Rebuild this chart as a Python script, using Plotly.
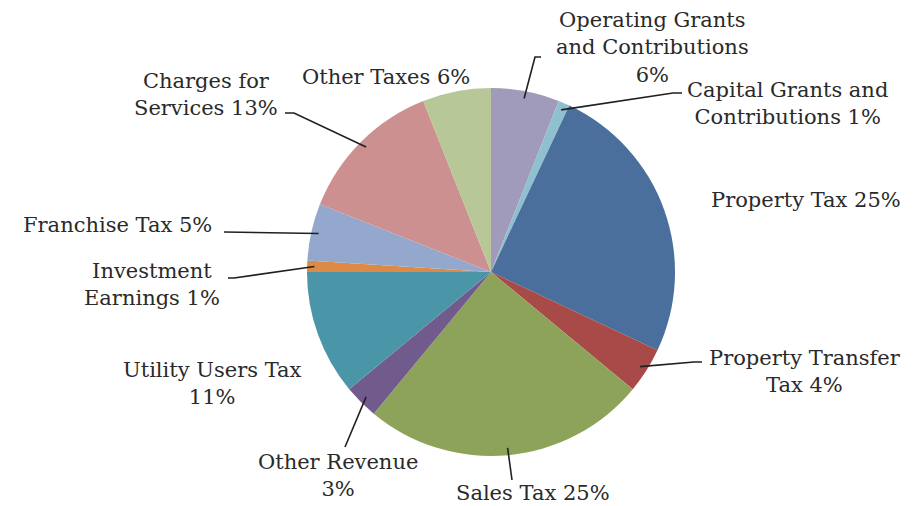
import math
import plotly.graph_objects as go

categories = ["Operating Grants and Contributions", "Capital Grants and Contributions",
              "Property Tax", "Property Transfer Tax", "Sales Tax", "Other Revenue",
              "Utility Users Tax", "Investment Earnings", "Franchise Tax",
              "Charges for Services", "Other Taxes"]
values = [6, 1, 25, 4, 25, 3, 11, 1, 5, 13, 6]
label_texts = ["Operating Grants<br>and Contributions<br>6%", "Capital Grants and<br>Contributions 1%",
               "Property Tax 25%", "Property Transfer<br>Tax 4%", "Sales Tax 25%", "Other Revenue<br>3%",
               "Utility Users Tax<br>11%", "Investment<br>Earnings 1%", "Franchise Tax 5%",
               "Charges for<br>Services 13%", "Other Taxes 6%"]
colors = ["#a09abb", "#8fc0cf", "#4a6f9c", "#a84a47", "#8da35a", "#715b8d",
          "#4a96a8", "#dc8a45", "#93a8cc", "#cc9090", "#b7c797"]

W, H = 914, 506
OFF = 8  # page body margin shifts the figure by 8px
CX, CY, R = 491 - OFF, 272 - OFF, 184

FONT = dict(family="DejaVu Serif", size=21, color="#2a2a2a")

# label centre positions (screen px)
label_pos = [(652, 48), (787, 103), (806, 200), (805, 371), (533, 493), (338, 475),
             (212, 383), (152, 284), (117, 225), (206, 94), (386, 77)]
# leader line: start point near label and optional elbow point (screen px); None = no line
leaders = [((541, 57), (535, 57)), ((682, 93), (673, 93)), None, ((702, 362), (694, 362)),
           ((512, 480), None), ((345, 447), None), None, ((228, 278), (234, 278)),
           ((224, 232), None), ((285, 113), (294, 113)), None]


def px(x, y):
    return x / W, 1 - y / H


fig = go.Figure(go.Pie(
    labels=categories, values=values, sort=False, direction="clockwise", rotation=0,
    marker=dict(colors=colors, line=dict(width=0)), textinfo="none", hoverinfo="label+percent",
    domain=dict(x=[(CX - R) / W, (CX + R) / W], y=[(H - CY - R) / H, (H - CY + R) / H]),
    showlegend=False,
))

total = sum(values)
cum = 0
annotations = []
shapes = []
for v, txt, (lx, ly), ld in zip(values, label_texts, label_pos, leaders):
    mid = (cum + v / 2) / total * 2 * math.pi
    cum += v
    ax_, ay_ = px(lx - OFF, ly - OFF)
    annotations.append(dict(
        x=ax_, y=ay_, xref="paper", yref="paper", xanchor="center", yanchor="middle",
        showarrow=False, text=txt, font=FONT, align="center",
    ))
    if ld is not None:
        hx = CX + R * 0.96 * math.sin(mid)
        hy = CY - R * 0.96 * math.cos(mid)
        pts = [ld[0]] + ([ld[1]] if ld[1] else [])
        pts = [px(x - OFF, y - OFF) for x, y in pts] + [px(hx, hy)]
        path = "M " + " L ".join(f"{x:.5f},{y:.5f}" for x, y in pts)
        shapes.append(dict(type="path", xref="paper", yref="paper", path=path,
                           line=dict(color="#202020", width=1.6)))

fig.update_layout(
    width=W, height=H, margin=dict(l=0, r=0, t=0, b=0),
    paper_bgcolor="white", plot_bgcolor="white", annotations=annotations, shapes=shapes,
)
fig.write_html("out.html")
